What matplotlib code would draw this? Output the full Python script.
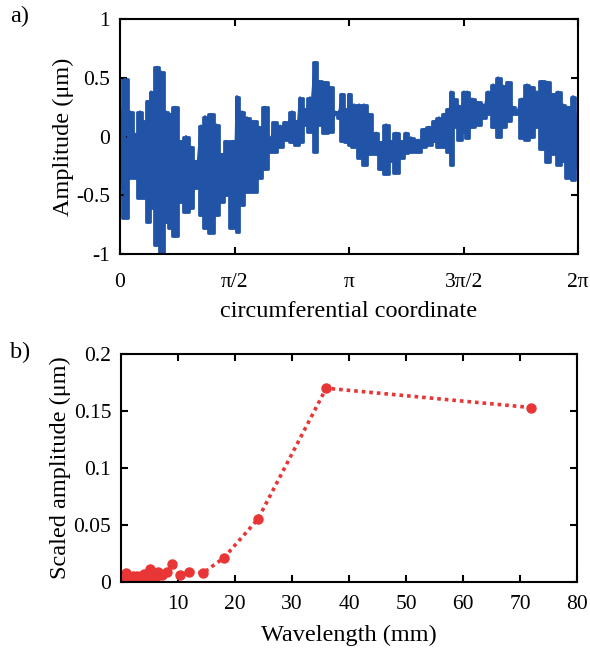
import matplotlib
matplotlib.use("Agg")
import matplotlib.pyplot as plt
import numpy as np

plt.rcParams["font.family"] = ["Liberation Serif", "DejaVu Serif"]

BLUE = "#2154A6"
RED = "#E83535"

# a) surface profile, read off as upper/lower excursions at each position (degrees)
profile_deg = [0, 3.9, 7.9, 11.8, 15.7, 18.1, 22.0, 24.4, 29.1, 32.2, 36.2, 39.3,
               43.2, 47.2, 51.9, 55.8, 59.7, 63.7, 66.8, 71.5, 75.5, 79.4, 83.3, 88.8,
               90.4, 91.9, 95.9, 99.8, 105.3, 109.3, 114.0, 117.9, 121.0, 125.8, 129.7, 135.2,
               139.1, 141.5, 145.4, 149.3, 153.3, 156.4, 161.1, 165.1, 169.0, 172.1, 174.5, 178.4,
               180.0, 183.9, 187.9, 191.8, 195.7, 201.2, 205.1, 209.1, 213.0, 216.9, 220.9, 224.8,
               228.7, 234.2, 238.9, 242.9, 246.8, 250.7, 254.7, 257.8, 260.2, 262.6, 266.5, 270.4,
               272.7, 276.7, 281.4, 285.3, 289.3, 293.2, 297.1, 301.1, 305.0, 308.9, 312.0, 315.9,
               319.9, 323.8, 327.7, 331.7, 336.4, 340.3, 344.3, 348.2, 352.1, 356.1, 359.2]
profile_hi = [0.23, 0.49, 0.21, 0.02, 0.21, 0.13, 0.30, 0.38, 0.59, 0.55, 0.21, 0.19,
              0.25, -0.04, 0.00, -0.09, -0.21, 0.09, 0.17, 0.19, 0.10, -0.15, -0.04, -0.04,
              -0.04, 0.34, 0.21, 0.16, 0.13, 0.08, 0.25, -0.01, 0.12, 0.09, 0.12, 0.21,
              0.13, 0.33, 0.23, 0.33, 0.63, 0.47, 0.46, 0.42, 0.21, 0.21, 0.36, 0.23,
              0.36, 0.27, 0.27, 0.27, 0.19, 0.03, -0.05, 0.10, -0.04, 0.03, -0.04, 0.03,
              -0.01, -0.03, 0.06, 0.08, 0.13, 0.16, 0.19, 0.23, 0.38, 0.32, 0.26, 0.38,
              0.38, 0.32, 0.29, 0.27, 0.38, 0.44, 0.50, 0.43, 0.46, 0.25, 0.21, 0.32,
              0.44, 0.42, 0.38, 0.47, 0.46, 0.36, 0.38, 0.27, 0.25, 0.34, 0.19]
profile_lo = [-0.44, -0.69, -0.35, -0.35, -0.52, -0.52, -0.73, -0.61, -0.92, -0.99, -0.73, -0.78,
              -0.85, -0.56, -0.64, -0.61, -0.44, -0.67, -0.78, -0.82, -0.67, -0.56, -0.50, -0.78,
              -0.44, -0.81, -0.58, -0.47, -0.47, -0.35, -0.28, -0.13, -0.13, -0.09, -0.03, -0.05,
              -0.07, -0.05, 0.10, 0.04, -0.13, 0.10, 0.03, 0.04, 0.19, 0.16, -0.04, -0.05,
              -0.07, -0.09, -0.18, -0.24, -0.15, -0.15, -0.28, -0.32, -0.21, -0.31, -0.18, -0.14,
              -0.13, -0.13, -0.09, -0.07, -0.04, -0.09, -0.09, -0.13, -0.24, 0.08, -0.03, 0.04,
              -0.01, 0.08, 0.10, 0.16, 0.19, 0.08, 0.00, 0.08, 0.13, 0.19, 0.19, -0.01,
              -0.03, 0.00, 0.08, -0.11, -0.22, -0.15, -0.24, -0.21, -0.35, -0.37, -0.27]

theta_ticks = [0, np.pi / 2, np.pi, 3 * np.pi / 2, 2 * np.pi]
theta_labels = ["0", "π/2", "π", "3π/2", "2π"]

# b) spectrum
wavelength_mm = [72, 36, 24, 18, 14.4, 12, 10.3, 9, 8, 7.2, 6.55, 6, 5.54, 5.14, 4.8,
                 4.5, 4.24, 4, 3.79, 3.6, 3.43, 3.27, 3.13, 3, 2.88, 2.77, 2.67, 2.57, 2.48, 2.4,
                 2.32, 2.25, 2.18, 2.12, 2.06, 2, 1.9, 1.8, 1.7, 1.6, 1.5, 1.44, 1.33, 1.2, 1.1,
                 1.0, 0.9, 0.8, 0.72, 0.6, 0.5]
scaled_amp = [0.153, 0.170, 0.055, 0.021, 0.008, 0.009, 0.006, 0.016, 0.009, 0.006, 0.009, 0.003,
              0.004, 0.011, 0.003, 0.005, 0.006, 0.007, 0.004, 0.002, 0.005, 0.003, 0.004, 0.002,
              0.004, 0.005, 0.002, 0.003, 0.004, 0.001, 0.003, 0.002, 0.004, 0.005, 0.002, 0.003,
              0.002, 0.004, 0.001, 0.003, 0.002, 0.003, 0.001, 0.002, 0.004, 0.002, 0.003, 0.008,
              0.002, 0.004, 0.002]

TICK_FS = 15.5
LABEL_FS = 17.5


def style_axes(ax, xpad):
    for sp in ax.spines.values():
        sp.set_linewidth(1.5)
    ax.tick_params(direction="in", length=5, width=1.5, top=True, right=True,
                   labelsize=TICK_FS)
    ax.tick_params(axis="y", pad=7)
    ax.tick_params(axis="x", pad=xpad)


fig = plt.figure(figsize=(5.9, 6.5), dpi=100)

ax1 = fig.add_axes([0.2034, 0.6092, 0.7763, 0.3616])
theta = np.deg2rad(profile_deg)
ax1.fill_between(theta, profile_lo, profile_hi, step="mid", color=BLUE,
                 lw=2.0, edgecolor=BLUE, joinstyle="round")
xs = np.repeat(theta, 2)
ys = np.ravel(np.column_stack([profile_hi, profile_lo]))
ax1.plot(xs, ys, color=BLUE, lw=2.0, solid_joinstyle="round")
ax1.set_xlim(0, 2 * np.pi)
ax1.set_ylim(-1, 1)
ax1.set_xticks(theta_ticks)
ax1.set_xticklabels(theta_labels)
ax1.set_yticks([-1, -0.5, 0, 0.5, 1])
ax1.set_yticklabels(["-1", "-0.5", "0", "0.5", "1"])
ax1.set_xlabel("circumferential coordinate", fontsize=LABEL_FS, labelpad=6)
ax1.set_ylabel("Amplitude (μm)", fontsize=LABEL_FS, labelpad=2)
style_axes(ax1, xpad=14)
fig.text(0.017, 0.975, "a)", fontsize=LABEL_FS, va="center")

ax2 = fig.add_axes([0.2051, 0.1046, 0.7729, 0.3508])
ax2.plot(wavelength_mm, scaled_amp, color=RED, lw=2.6, linestyle=(0, (1, 1.1)),
         marker="o", markersize=6.5, markeredgecolor=RED, markerfacecolor=RED)
ax2.set_xlim(0, 80)
ax2.set_ylim(0, 0.2)
ax2.set_xticks([10, 20, 30, 40, 50, 60, 70, 80])
ax2.set_yticks([0, 0.05, 0.1, 0.15, 0.2])
ax2.set_yticklabels(["0", "0.05", "0.1", "0.15", "0.2"])
ax2.set_xlabel("Wavelength (mm)", fontsize=LABEL_FS, labelpad=8)
ax2.set_ylabel("Scaled amplitude (μm)", fontsize=LABEL_FS, labelpad=2)
style_axes(ax2, xpad=9)
fig.text(0.017, 0.458, "b)", fontsize=LABEL_FS, va="center")

fig.savefig("out.png", dpi=100)
